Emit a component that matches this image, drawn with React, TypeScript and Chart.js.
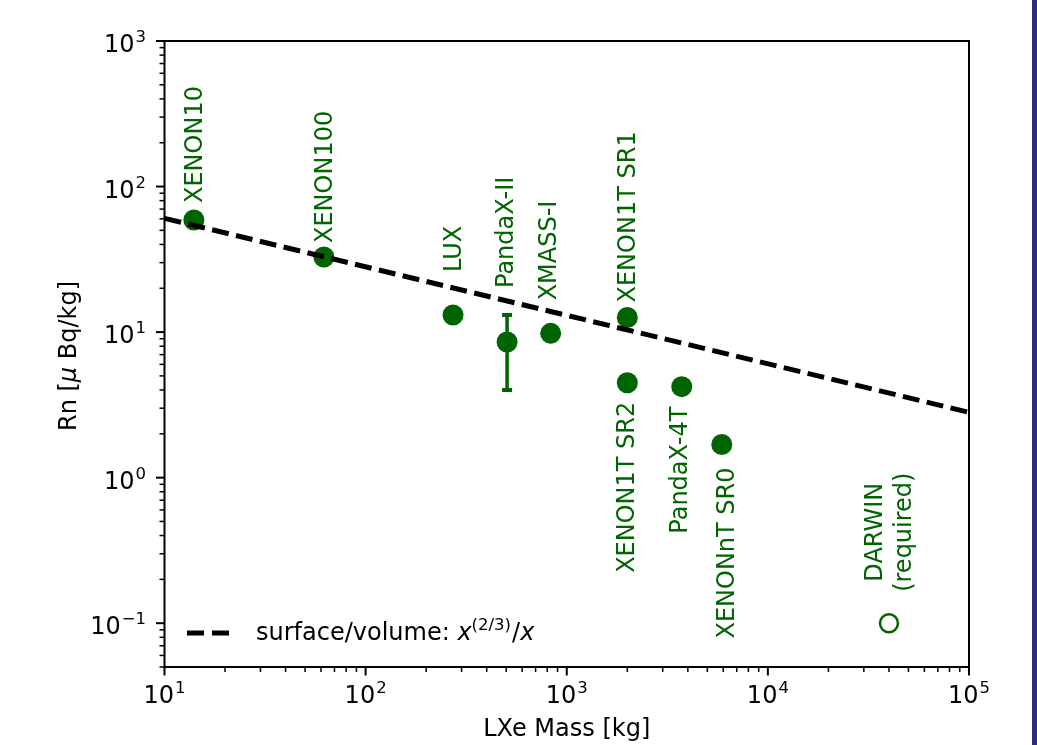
import React, { useEffect, useRef } from 'react';
import { Chart, registerables } from 'chart.js';

Chart.register(...registerables);

// ---------------- data ----------------
const experiments = [
  'XENON10',
  'XENON100',
  'LUX',
  'PandaX-II',
  'XMASS-I',
  'XENON1T SR1',
  'XENON1T SR2',
  'PandaX-4T',
  'XENONnT SR0',
];
const lxeMassKg = [14, 62, 272, 505, 832, 2000, 2000, 3730, 5900];
const rnMicroBqPerKg = [58.9, 32.8, 13.1, 8.55, 9.8, 12.6, 4.49, 4.22, 1.69];

const pandaxIIMassKg = [505, 505];
const pandaxIIRange = [4.0, 13.1];

const darwinLines = ['DARWIN', '(required)'];
const darwinMassKg = [40000];
const darwinRn = [0.1];

const trendMassKg = [10, 100000];
const trendRn = [60.5, 2.81];

const xTickExponents = [1, 2, 3, 4, 5];
const yTickExponents = [-1, 0, 1, 2, 3];
const xRange = [10, 100000];
const yRange = [0.05, 1000];

const xAxisTitle = 'LXe Mass [kg]';
const yAxisTitleParts = [
  { t: 'Rn [', italic: false },
  { t: '\u03bc', italic: true },
  { t: ' Bq/kg]', italic: false },
];
const legendParts = [
  { t: 'surface/volume: ', italic: false, sup: false },
  { t: 'x', italic: true, sup: false },
  { t: '(2/3)', italic: false, sup: true },
  { t: '/', italic: false, sup: false },
  { t: 'x', italic: true, sup: false },
];

// label placement relative to the marker (pixels)
const labelPlacement = [
  { dx: -1, gap: 17, side: 'above' },
  { dx: -1, gap: 14, side: 'above' },
  { dx: -1, gap: 43, side: 'above' },
  { dx: -3, gap: 54, side: 'above' },
  { dx: -3, gap: 33, side: 'above' },
  { dx: -1, gap: 15, side: 'above' },
  { dx: -2, gap: 19, side: 'below' },
  { dx: -3, gap: 20, side: 'below' },
  { dx: 3, gap: 23, side: 'below' },
];
const darwinPlacement = { dx: -1, dy: -91, lineStep: 28.8 };

// ---------------- styles ----------------
const GREEN = '#006400';
const FONT = '"DejaVu Sans"';
const FS = 24;
const SUP_FS = 16.5;
const CAP = 0.729 * FS;

function fontStr(size: number, italic = false) {
  return `${italic ? 'oblique ' : ''}${size}px ${FONT}`;
}

function drawPow10(ctx: CanvasRenderingContext2D, exp: number, x: number, baseY: number, align: 'right' | 'center') {
  const base = '10';
  const e = exp < 0 ? '\u2212' + String(-exp) : String(exp);
  ctx.font = fontStr(FS);
  const wb = ctx.measureText(base).width;
  ctx.font = fontStr(SUP_FS);
  const we = ctx.measureText(e).width;
  const total = wb + 1 + we;
  const x0 = align === 'right' ? x - total : x - total / 2;
  ctx.textAlign = 'left';
  ctx.textBaseline = 'alphabetic';
  ctx.font = fontStr(FS);
  ctx.fillText(base, x0, baseY);
  ctx.font = fontStr(SUP_FS);
  ctx.fillText(e, x0 + wb + 1, baseY - 10);
}

const decorPlugin = {
  id: 'decor',
  beforeDraw(chart: any) {
    const ctx: CanvasRenderingContext2D = chart.ctx;
    ctx.save();
    ctx.fillStyle = '#ffffff';
    ctx.fillRect(0, 0, chart.width, chart.height);
    ctx.fillStyle = '#2c2c82';
    ctx.fillRect(chart.width - 5, 0, 5, chart.height);
    ctx.restore();
  },
  afterDatasetsDraw(chart: any) {
    const ctx: CanvasRenderingContext2D = chart.ctx;
    const a = chart.chartArea;
    const xs = chart.scales.x;
    const ys = chart.scales.y;
    ctx.save();
    ctx.strokeStyle = '#000';
    ctx.fillStyle = '#000';
    ctx.setLineDash([]);

    // ticks
    const decadeTicks = (min: number, max: number) => {
      const out: { v: number; major: boolean }[] = [];
      for (let n = Math.floor(Math.log10(min)) - 1; n <= Math.ceil(Math.log10(max)); n++) {
        for (let m = 1; m <= 9; m++) {
          const v = m * Math.pow(10, n);
          if (v < min * 0.999 || v > max * 1.001) continue;
          out.push({ v, major: m === 1 });
        }
      }
      return out;
    };
    for (const t of decadeTicks(xRange[0], xRange[1])) {
      const px = xs.getPixelForValue(t.v);
      ctx.lineWidth = t.major ? 2 : 1.5;
      ctx.beginPath();
      ctx.moveTo(px, a.bottom);
      ctx.lineTo(px, a.bottom + (t.major ? 8.5 : 5));
      ctx.stroke();
    }
    for (const t of decadeTicks(yRange[0], yRange[1])) {
      const py = ys.getPixelForValue(t.v);
      ctx.lineWidth = t.major ? 2 : 1.5;
      ctx.beginPath();
      ctx.moveTo(a.left, py);
      ctx.lineTo(a.left - (t.major ? 8.5 : 5), py);
      ctx.stroke();
    }

    // spines
    ctx.lineWidth = 2;
    ctx.strokeRect(a.left, a.top, a.right - a.left, a.bottom - a.top);

    // tick labels
    for (const e of xTickExponents) {
      const px = xs.getPixelForValue(Math.pow(10, e));
      drawPow10(ctx, e, px, a.bottom + 36, 'center');
    }
    for (const e of yTickExponents) {
      const py = ys.getPixelForValue(Math.pow(10, e));
      drawPow10(ctx, e, a.left - 18.5, py + 11, 'right');
    }

    // axis titles
    ctx.font = fontStr(FS);
    ctx.textAlign = 'center';
    ctx.textBaseline = 'alphabetic';
    ctx.fillText(xAxisTitle, (a.left + a.right) / 2, 736);

    let total = 0;
    for (const p of yAxisTitleParts) {
      ctx.font = fontStr(FS, p.italic);
      total += ctx.measureText(p.t).width;
    }
    ctx.save();
    ctx.translate(76, (a.top + a.bottom) / 2 + 2);
    ctx.rotate(-Math.PI / 2);
    ctx.textAlign = 'left';
    let cx = -total / 2;
    for (const p of yAxisTitleParts) {
      ctx.font = fontStr(FS, p.italic);
      ctx.fillText(p.t, cx, 0);
      cx += ctx.measureText(p.t).width;
    }
    ctx.restore();

    // legend
    ctx.save();
    ctx.lineWidth = 5;
    ctx.setLineDash([17, 8]);
    ctx.beginPath();
    ctx.moveTo(187, 633);
    ctx.lineTo(231, 633);
    ctx.stroke();
    ctx.restore();
    let lx = 256;
    ctx.textAlign = 'left';
    for (const p of legendParts) {
      const size = p.sup ? SUP_FS : FS;
      ctx.font = fontStr(size, p.italic);
      ctx.fillText(p.t, lx, p.sup ? 630 : 640);
      lx += ctx.measureText(p.t).width + (p.sup ? 1 : 0);
    }

    // experiment labels
    ctx.fillStyle = GREEN;
    ctx.font = fontStr(FS);
    experiments.forEach((name, i) => {
      const pl = labelPlacement[i];
      const px = xs.getPixelForValue(lxeMassKg[i]) + pl.dx;
      const pyPt = ys.getPixelForValue(rnMicroBqPerKg[i]);
      ctx.save();
      if (pl.side === 'above') {
        ctx.translate(px, pyPt - pl.gap);
        ctx.rotate(-Math.PI / 2);
        ctx.textAlign = 'left';
      } else {
        ctx.translate(px, pyPt + pl.gap);
        ctx.rotate(-Math.PI / 2);
        ctx.textAlign = 'right';
      }
      ctx.textBaseline = 'alphabetic';
      ctx.fillText(name, 0, CAP / 2);
      ctx.restore();
    });

    // DARWIN label
    const dpx = xs.getPixelForValue(darwinMassKg[0]) + darwinPlacement.dx;
    const dpy = ys.getPixelForValue(darwinRn[0]) + darwinPlacement.dy;
    const n = darwinLines.length;
    darwinLines.forEach((ln, j) => {
      const off = (j - (n - 1) / 2) * darwinPlacement.lineStep;
      ctx.save();
      ctx.translate(dpx + off, dpy);
      ctx.rotate(-Math.PI / 2);
      ctx.textAlign = 'center';
      ctx.fillText(ln, 0, CAP / 2);
      ctx.restore();
    });

    ctx.restore();
  },
};

export default function App() {
  const ref = useRef<HTMLCanvasElement>(null);
  useEffect(() => {
    if (!ref.current) return;
    const chart = new Chart(ref.current, {
      type: 'scatter',
      data: {
        datasets: [
          {
            label: 'trend',
            data: trendMassKg.map((x, i) => ({ x, y: trendRn[i] })),
            showLine: true,
            borderColor: '#000',
            borderWidth: 5,
            borderDash: [17, 7.5],
            pointRadius: 0,
            order: 0,
          } as any,
          {
            label: 'experiments',
            data: lxeMassKg.map((x, i) => ({ x, y: rnMicroBqPerKg[i] })),
            pointRadius: 10.5,
            pointHoverRadius: 10.5,
            backgroundColor: GREEN,
            borderWidth: 0,
            order: 1,
          },
          {
            label: 'darwin',
            data: darwinMassKg.map((x, i) => ({ x, y: darwinRn[i] })),
            pointRadius: 9,
            pointHoverRadius: 9,
            backgroundColor: 'rgba(0,0,0,0)',
            borderColor: GREEN,
            borderWidth: 2.5,
            order: 1,
          },
          {
            label: 'pandax-err',
            data: pandaxIIMassKg.map((x, i) => ({ x, y: pandaxIIRange[i] })),
            showLine: true,
            borderColor: GREEN,
            borderWidth: 3.5,
            pointStyle: 'line',
            pointRadius: 5,
            pointBorderWidth: 4,
            pointBorderColor: GREEN,
            order: 2,
          } as any,
        ],
      },
      options: {
        responsive: false,
        animation: false,
        events: [],
        layout: { padding: { left: 164.5, top: 41, right: 68, bottom: 78 } },
        plugins: { legend: { display: false }, tooltip: { enabled: false } },
        scales: {
          x: { type: 'logarithmic', min: xRange[0], max: xRange[1], display: false },
          y: { type: 'logarithmic', min: yRange[0], max: yRange[1], display: false },
        },
      },
      plugins: [decorPlugin],
    });
    return () => chart.destroy();
  }, []);
  return (
    <div style={{ position: 'fixed', left: 0, top: 0, width: 1037, height: 745, background: '#fff' }}>
      <canvas ref={ref} width={1037} height={745} style={{ display: 'block' }} />
    </div>
  );
}
